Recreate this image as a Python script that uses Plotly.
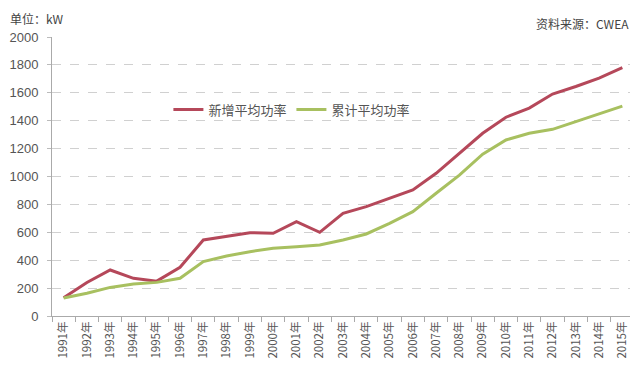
import plotly.graph_objects as go

years = [f"{y}年" for y in range(1991, 2016)]
new_avg = [130, 240, 330, 270, 250, 349, 545, 573, 597, 593, 676, 600, 736, 784, 844, 903,
           1023, 1166, 1310, 1425, 1490, 1591, 1645, 1705, 1780]
cum_avg = [129, 163, 205, 229, 241, 270, 390, 430, 461, 485, 497, 509, 545, 588, 664, 748,
           880, 1010, 1160, 1262, 1310, 1338, 1393, 1448, 1505]
series_names = ["新增平均功率", "累计平均功率"]
y_ticks = [0, 200, 400, 600, 800, 1000, 1200, 1400, 1600, 1800, 2000]

font_cjk = "Noto Sans CJK SC, Liberation Sans, sans-serif"

fig = go.Figure()
fig.add_trace(go.Scatter(x=years, y=new_avg, mode="lines", name=series_names[0],
                         line=dict(color="#b5485a", width=3)))
fig.add_trace(go.Scatter(x=years, y=cum_avg, mode="lines", name=series_names[1],
                         line=dict(color="#a8c060", width=3)))

# page body has an 8px margin, so the figure is sized to fill the rest of the window
fig.update_layout(
    width=630, height=375,
    margin=dict(l=44, r=4, t=29, b=67, autoexpand=False),
    paper_bgcolor="#ffffff", plot_bgcolor="#ffffff",
    font=dict(family=font_cjk, color="#444", size=12),
    showlegend=True,
    legend=dict(orientation="h", x=0.2, y=0.74, xanchor="left", yanchor="middle",
                bgcolor="rgba(0,0,0,0)", font=dict(size=13, color="#555"),
                itemwidth=30, tracegroupgap=0),
    xaxis=dict(type="category", tickangle=-90, tickson="boundaries",
               ticks="outside", ticklen=5, tickcolor="#aaa", automargin=False,
               showline=True, linecolor="#aaa", linewidth=1,
               showgrid=False, tickfont=dict(size=11.5, color="#555", family=font_cjk),
               range=[-0.5, 24.5]),
    yaxis=dict(range=[0, 2000], tickvals=y_ticks, ticks="outside", ticklen=4,
               tickcolor="#bbb", showline=True, linecolor="#aaa", linewidth=1,
               showgrid=True, gridcolor="#d0d0d0", griddash="dash", gridwidth=1,
               automargin=False, ticklabelstandoff=6,
               tickfont=dict(size=13, color="#555", family="Liberation Sans, sans-serif"),
               zeroline=False),
    annotations=[
        dict(text="单位：kW", xref="paper", yref="paper", x=-0.076, y=1.03,
             xanchor="left", yanchor="bottom", showarrow=False,
             font=dict(size=12, color="#444", family=font_cjk), align="left"),
        dict(text="资料来源：CWEA", xref="paper", yref="paper", x=0.995, y=1.01,
             xanchor="right", yanchor="bottom", showarrow=False,
             font=dict(size=12, color="#444", family=font_cjk)),
    ],
)

fig.write_html("out.html")
